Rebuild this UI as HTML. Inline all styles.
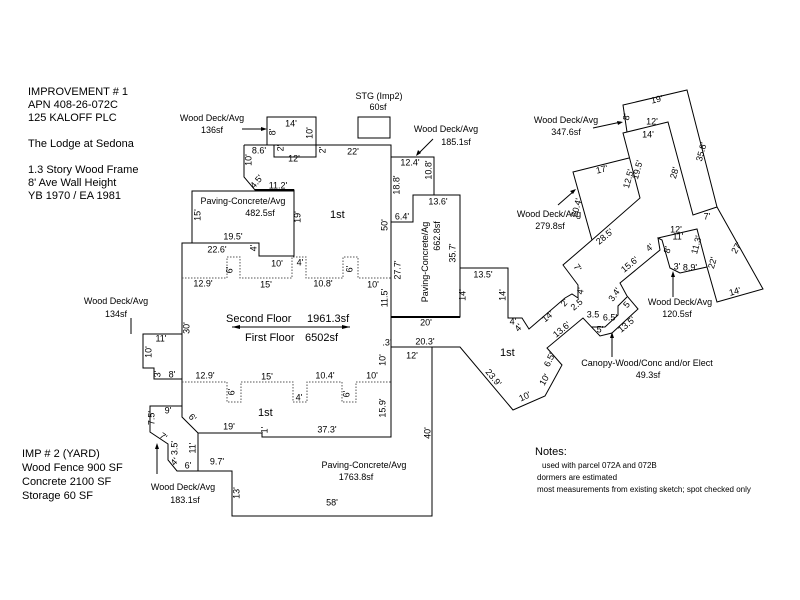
<!DOCTYPE html>
<html><head><meta charset="utf-8"><style>
html,body{margin:0;padding:0;background:#fff;}
svg{display:block;font-family:"Liberation Sans",Arial,sans-serif;}
.d{font-size:9px;text-anchor:middle;dominant-baseline:middle;fill:#000;}
.l{font-size:9px;text-anchor:middle;fill:#000;}
.t{font-size:11px;fill:#000;}
.n{fill:none;stroke:#000;stroke-width:1;}
.b{fill:none;stroke:#000;stroke-width:2;}
.dot{fill:none;stroke:#555;stroke-width:1;stroke-dasharray:1.5,1.5;}
</style></head><body>
<svg width="800" height="600" viewBox="0 0 800 600" xmlns="http://www.w3.org/2000/svg">
<rect width="800" height="600" fill="#fff"/>
<!-- left text -->
<g class="t">
<text x="28" y="95">IMPROVEMENT # 1</text>
<text x="28" y="108">APN 408-26-072C</text>
<text x="28" y="121">125 KALOFF PLC</text>
<text x="28" y="147">The Lodge at Sedona</text>
<text x="28" y="173">1.3 Story Wood Frame</text>
<text x="28" y="186">8' Ave Wall Height</text>
<text x="28" y="199">YB 1970 / EA 1981</text>
<text x="22" y="457">IMP # 2 (YARD)</text>
<text x="22" y="471">Wood Fence 900 SF</text>
<text x="22" y="485">Concrete 2100 SF</text>
<text x="22" y="499">Storage 60 SF</text>
<text x="535" y="455">Notes:</text>
</g>
<g style="font-size:8px">
<text x="542" y="468">used with parcel 072A and 072B</text>
<text x="537" y="480">dormers are estimated</text>
<text x="537" y="492">most measurements from existing sketch; spot checked only</text>
</g>

<!-- main building -->
<polyline class="n" points="244,145 391,145 391,437 262,437 262,433 198,433 182,417 182,243 259,243 259,256 294,256 294,190 255,190 244,177 244,145"/>
<!-- top deck -->
<polyline class="n" points="267,145 267,117 316,117 316,157 274,157 274,145"/>
<!-- STG -->
<rect class="n" x="358" y="117" width="32" height="21"/>
<!-- paving 482.5 -->
<polyline class="n" points="192,243 192,191 294,191"/>
<line class="b" x1="255" y1="190" x2="294" y2="190"/>
<!-- deck 185.1 -->
<polyline class="n" points="391,157 434,157 434,195"/>
<!-- paving 662.8 -->
<polyline class="n" points="391,222 413,222 413,195 460,195 460,317 391,317"/>
<line class="b" x1="391" y1="317" x2="460" y2="317"/>
<!-- deck 134 -->
<polyline class="n" points="182,334 143,334 143,368 154,368 154,379 182,379"/>
<!-- deck 183.1 -->
<polyline class="n" points="182,406 150,406 150,432 168,444 168,460 177,471 198,471"/>
<!-- paving 1763.8 -->
<polyline class="n" points="391,347 432,347 432,516 232,516 232,471 198,471 198,433"/>
<!-- dotted second floor -->
<polyline class="dot" points="182,278 227,278 227,257 240,257 240,278 292,278 292,257 306,257 306,278 343,278 343,257 358,257 358,278 391,278"/>
<polyline class="dot" points="182,382 227,382 227,402 241,402 241,382 293,382 293,402 307,402 307,382 342,382 342,402 356,402 356,382 391,382"/>

<!-- east wing -->
<polyline class="n" points="460,268 508,268 508,318 522,318 529,329 565,298 572,294 578,298 578,285 563,265 592,240 640,198 623,133 668,122 693,215 717,207 763,289 717,302 707,267 680,273 670,268 662,240 658,238 660,250 620,283 627,296 638,309 612,333 600,336 583,318 547,348 562,365 545,396 513,410 460,347 391,347"/>
<polyline class="n" points="591,327 605,327 618,315 618,306 627,297"/>
<!-- deck 279.8 -->
<polyline class="n" points="592,240 573,172 629,158"/>
<!-- deck 347.6 -->
<polyline class="n" points="627,132 623,105 687,90 717,207"/>
<!-- deck 120.5 -->
<polyline class="n" points="658,238 697,229 707,267"/>

<!-- arrows -->
<g class="n">
<line x1="242" y1="129" x2="265" y2="129"/>
<line x1="433" y1="139" x2="418" y2="154"/>
<line x1="593" y1="128" x2="621" y2="122"/>
<line x1="558" y1="205" x2="574" y2="191"/>
<line x1="673" y1="297" x2="673" y2="274"/>
<line x1="612" y1="357" x2="612" y2="335"/>
<line x1="131" y1="318" x2="131" y2="334"/>
<line x1="157" y1="474" x2="157" y2="446"/>
<line x1="232" y1="327" x2="350" y2="327"/>
</g>
<g fill="#000">
<polygon points="267,129 261,127 261,131"/>
<polygon points="416,156 418,150 421,153"/>
<polygon points="623,122 617,121 618,125"/>
<polygon points="576,189 570,191 573,194"/>
<polygon points="673,271 671,277 675,277"/>
<polygon points="612,332 610,338 614,338"/>
<polygon points="157,443 155,449 159,449"/>
<polygon points="232,327 240,325 240,329"/>
<polygon points="350,327 342,325 342,329"/>
</g>

<!-- area labels -->
<g class="l" style="font-size:9px">
<text x="379" y="99">STG (Imp2)</text><text x="378" y="110">60sf</text>
<text x="212" y="121">Wood Deck/Avg</text><text x="212" y="133">136sf</text>
<text x="446" y="132">Wood Deck/Avg</text><text x="456" y="145">185.1sf</text>
<text x="566" y="123">Wood Deck/Avg</text><text x="566" y="135">347.6sf</text>
<text x="549" y="217">Wood Deck/Avg</text><text x="550" y="229">279.8sf</text>
<text x="680" y="305">Wood Deck/Avg</text><text x="677" y="317">120.5sf</text>
<text x="647" y="366">Canopy-Wood/Conc and/or Elect</text><text x="648" y="378">49.3sf</text>
<text x="116" y="304">Wood Deck/Avg</text><text x="116" y="317">134sf</text>
<text x="183" y="490">Wood Deck/Avg</text><text x="185" y="503">183.1sf</text>
<text x="243" y="204">Paving-Concrete/Avg</text><text x="260" y="216">482.5sf</text>
<text x="364" y="468">Paving-Concrete/Avg</text><text x="356" y="480">1763.8sf</text>
<text x="428" y="262" transform="rotate(-90 428 262)">Paving-Concrete/Ag</text>
<text x="440" y="236" transform="rotate(-90 440 236)">662.8sf</text>
</g>
<g class="t" style="font-size:11px">
<text x="330" y="218">1st</text>
<text x="258" y="416">1st</text>
<text x="500" y="356">1st</text>
<text x="226" y="322">Second Floor</text><text x="307" y="322">1961.3sf</text>
<text x="245" y="341">First Floor</text><text x="305" y="341">6502sf</text>
</g>

<!-- dimension labels horizontal -->
<g class="d">
<text x="291" y="124">14'</text><text x="259" y="151">8.6'</text><text x="294" y="159">12'</text><text x="353" y="152">22'</text>
<text x="278" y="186">11.2'</text><text x="410" y="163">12.4'</text><text x="438" y="202">13.6'</text><text x="402" y="217">6.4'</text>
<text x="233" y="237">19.5'</text><text x="217" y="250">22.6'</text><text x="277" y="264">10'</text><text x="300" y="263">4'</text>
<text x="203" y="284">12.9'</text><text x="266" y="285">15'</text><text x="323" y="284">10.8'</text><text x="373" y="285">10'</text>
<text x="426" y="323">20'</text><text x="161" y="339">11'</text><text x="172" y="375">8'</text>
<text x="205" y="376">12.9'</text><text x="267" y="377">15'</text><text x="325" y="376">10.4'</text><text x="372" y="376">10'</text>
<text x="299" y="398">4'</text><text x="387" y="343">.3'</text><text x="425" y="342">20.3'</text><text x="412" y="356">12'</text>
<text x="168" y="411">9'</text><text x="229" y="427">19'</text><text x="327" y="430">37.3'</text>
<text x="188" y="466">6'</text><text x="217" y="462">9.7'</text><text x="332" y="503">58'</text>
<text x="483" y="275">13.5'</text><text x="513" y="322">4'</text><text x="652" y="122">12'</text><text x="648" y="135">14'</text>
<text x="657" y="100" transform="rotate(-13 657 100)">19'</text><text x="602" y="170" transform="rotate(-14 602 170)">17'</text>
<text x="707" y="217">7'</text><text x="676" y="230">12'</text><text x="678" y="237">11'</text><text x="690" y="268">8.9'</text><text x="677" y="267">3'</text>
<text x="735" y="292" transform="rotate(-15 735 292)">14'</text>
<text x="610" y="318">6.5'</text><text x="593" y="315">3.5</text><text x="600" y="330">5'</text>
</g>
<!-- rotated dimension labels -->
<g class="d">
<text transform="translate(310,133) rotate(-90)">10'</text>
<text transform="translate(273,132) rotate(-90)">8'</text>
<text transform="translate(281,148) rotate(-90)">2'</text>
<text transform="translate(323,150) rotate(-90)">2'</text>
<text transform="translate(249,160) rotate(-90)">10'</text>
<text transform="translate(257,182) rotate(-50)">4.5'</text>
<text transform="translate(429,170) rotate(-90)">10.8'</text>
<text transform="translate(397,185) rotate(-90)">18.8'</text>
<text transform="translate(198,215) rotate(-90)">15'</text>
<text transform="translate(298,217) rotate(-90)">19'</text>
<text transform="translate(385,225) rotate(-90)">50'</text>
<text transform="translate(453,253) rotate(-90)">35.7'</text>
<text transform="translate(254,248) rotate(-90)">4'</text>
<text transform="translate(230,270) rotate(-90)">6'</text>
<text transform="translate(350,269) rotate(-90)">6'</text>
<text transform="translate(398,270) rotate(-90)">27.7'</text>
<text transform="translate(385,298) rotate(-90)">11.5'</text>
<text transform="translate(463,295) rotate(-90)">14'</text>
<text transform="translate(503,295) rotate(-90)">14'</text>
<text transform="translate(187,328) rotate(-90)">30'</text>
<text transform="translate(149,352) rotate(-90)">10'</text>
<text transform="translate(158,374) rotate(-90)">3'</text>
<text transform="translate(232,392) rotate(-90)">6'</text>
<text transform="translate(347,394) rotate(-90)">6'</text>
<text transform="translate(383,408) rotate(-90)">15.9'</text>
<text transform="translate(383,360) rotate(-90)">10'</text>
<text transform="translate(152,418) rotate(-90)">7.5'</text>
<text transform="translate(192,418) rotate(45)">6'</text>
<text transform="translate(265,430) rotate(-90)">1'</text>
<text transform="translate(428,433) rotate(-90)">40'</text>
<text transform="translate(163,437) rotate(35)">7'</text>
<text transform="translate(175,448) rotate(-90)">3.5'</text>
<text transform="translate(193,448) rotate(-90)">11'</text>
<text transform="translate(175,462) rotate(-50)">4'</text>
<text transform="translate(237,493) rotate(-90)">13'</text>
<text transform="translate(519,328) rotate(-50)">4'</text>
<text transform="translate(548,317) rotate(-40)">14'</text>
<text transform="translate(565,303) rotate(-50)">2'</text>
<text transform="translate(577,305) rotate(-40)">2.5</text>
<text transform="translate(581,291) rotate(-80)">4'</text>
<text transform="translate(577,268) rotate(55)">7'</text>
<text transform="translate(605,237) rotate(-40)">28.5'</text>
<text transform="translate(562,330) rotate(-40)">13.6'</text>
<text transform="translate(627,325) rotate(-40)">13.5'</text>
<text transform="translate(627,305) rotate(-50)">5</text>
<text transform="translate(615,295) rotate(-55)">3.4'</text>
<text transform="translate(630,265) rotate(-40)">15.6'</text>
<text transform="translate(650,248) rotate(-40)">4'</text>
<text transform="translate(668,250) rotate(-75)">8'</text>
<text transform="translate(550,360) rotate(-65)">6.5'</text>
<text transform="translate(545,380) rotate(-60)">10'</text>
<text transform="translate(525,397) rotate(-25)">10'</text>
<text transform="translate(493,378) rotate(50)">23.9'</text>
<text transform="translate(629,179) rotate(-75)">12.5'</text>
<text transform="translate(638,170) rotate(-75)">19.5'</text>
<text transform="translate(577,208) rotate(-75)">20.4'</text>
<text transform="translate(627,117) rotate(-80)">8'</text>
<text transform="translate(675,173) rotate(-75)">28'</text>
<text transform="translate(702,152) rotate(-75)">35.8'</text>
<text transform="translate(697,245) rotate(-75)">11.3'</text>
<text transform="translate(713,263) rotate(-75)">22'</text>
<text transform="translate(737,248) rotate(-60)">27'</text>
</g>
</svg>
</body></html>
